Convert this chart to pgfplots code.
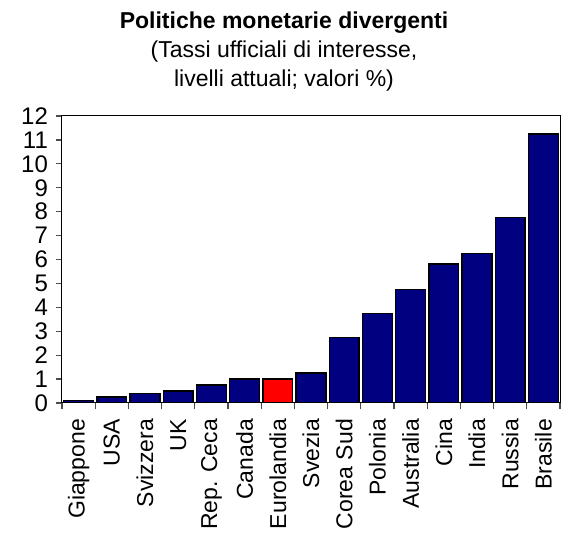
\documentclass[border=0pt]{standalone}
\usepackage{fontspec}
\setmainfont{Liberation Sans}
\usepackage{pgfplots}
\pgfplotsset{compat=1.18}
\definecolor{navybar}{RGB}{0,0,128}
\begin{document}
\fontsize{23bp}{27bp}\selectfont
\begin{tikzpicture}
\begin{axis}[
  at={(0,0)}, anchor=south west,
  scale only axis, width=498bp, height=287bp,
  xmin=-0.5, xmax=14.5, ymin=0, ymax=12,
  ytick={0,...,12},
  xtick={-0.5,0.5,...,14.5},
  x tick label as interval,
  xticklabels={Giappone,USA,Svizzera,UK,Rep. Ceca,Canada,Eurolandia,Svezia,Corea Sud,Polonia,Australia,Cina,India,Russia,Brasile},
  xtick pos=bottom, ytick pos=left,
  xtick align=outside, ytick align=outside,
  major tick length=0.22cm,
  tick style={black!70, very thick},
  axis line style={black, line width=1bp},
  x tick label style={rotate=90, anchor=east, font=\fontsize{23bp}{27bp}\selectfont},
  xticklabel shift=2bp,
  y tick label style={font=\fontsize{24bp}{28bp}\selectfont},
  /pgf/number format/assume math mode=true,
  bar width=0.9, bar shift=0pt,
]
\addplot[ybar, fill=navybar, draw=black, line width=1.4bp] coordinates {
  (0,0.1) (1,0.25) (2,0.4) (3,0.5) (4,0.75) (5,1.0) (7,1.25) (8,2.75) (9,3.75) (10,4.75) (11,5.81) (12,6.25) (13,7.75) (14,11.25)
};
\addplot[ybar, fill=red, draw=black, line width=1.4bp] coordinates {(6,1.0)};
\end{axis}
\node[anchor=base, font=\bfseries] at (222bp,374bp) {Politiche monetarie divergenti};
\node[anchor=base] at (222bp,345bp) {(Tassi ufficiali di interesse,};
\node[anchor=base] at (222bp,316bp) {livelli attuali; valori \%)};
\path (-62bp,-133bp) rectangle (500bp,403bp);
\end{tikzpicture}
\end{document}
